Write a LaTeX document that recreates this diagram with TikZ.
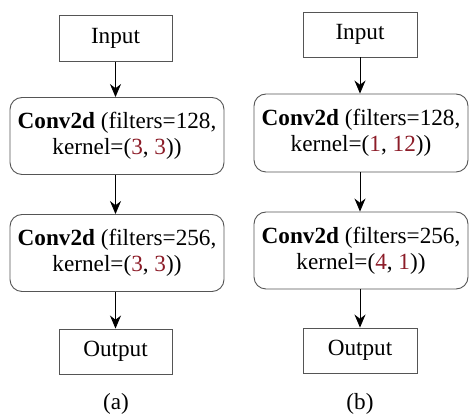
\documentclass[tikz,border=0pt]{standalone}
\usepackage{fontspec}
\setmainfont{Liberation Serif}
\usetikzlibrary{arrows.meta}
\definecolor{numred}{RGB}{140,28,40}
\definecolor{boxgray}{RGB}{85,85,85}
\newcommand{\nr}[1]{\textcolor{numred}{#1}}
\begin{document}
\begin{tikzpicture}[x=1pt,y=1pt,
  font=\fontsize{23.2}{26}\selectfont,
  iobox/.style={draw=boxgray, line width=0.9pt, minimum width=113pt, minimum height=46pt, inner sep=0pt},
  convbox/.style={draw=boxgray, line width=0.9pt, rounded corners=12pt, minimum width=214pt, minimum height=77pt, inner sep=0pt, align=center},
  caption/.style={inner sep=0pt},
  conn/.style={draw=black, line width=0.9pt, -{Stealth[length=13pt,width=11pt]}}]
\useasboundingbox (0,0) rectangle (469,415);
% (a)
\node[iobox] (ina) at (115.5,376.5) {Input};
\node[convbox] (c1a) at (117,279) {\textbf{Conv2d} (filters=128,\\kernel=(\nr{3}, \nr{3}))};
\node[convbox] (c2a) at (117,162) {\textbf{Conv2d} (filters=256,\\kernel=(\nr{3}, \nr{3}))};
\node[iobox, minimum height=45pt] (outa) at (115.5,63.5) {Output};
\node[caption] (capa) at (116,11.5) {(a)};
\draw[conn] (ina.south) -- (ina.south |- c1a.north);
\draw[conn] (ina.south |- c1a.south) -- (ina.south |- c2a.north);
\draw[conn] (ina.south |- c2a.south) -- (outa.north);
% (b)
\node[iobox, minimum width=114pt, minimum height=45pt] (inb) at (360,380.5) {Input};
\node[convbox, minimum height=78pt] (c1b) at (361,282) {\textbf{Conv2d} (filters=128,\\kernel=(\nr{1}, \nr{12}))};
\node[convbox] (c2b) at (361,164.5) {\textbf{Conv2d} (filters=256,\\kernel=(\nr{4}, \nr{1}))};
\node[iobox, minimum width=114pt, minimum height=45pt] (outb) at (360,64.5) {Output};
\node[caption] (capb) at (360,11.5) {(b)};
\draw[conn] (inb.south) -- (inb.south |- c1b.north);
\draw[conn] (inb.south |- c1b.south) -- (inb.south |- c2b.north);
\draw[conn] (inb.south |- c2b.south) -- (outb.north);
\end{tikzpicture}
\end{document}
